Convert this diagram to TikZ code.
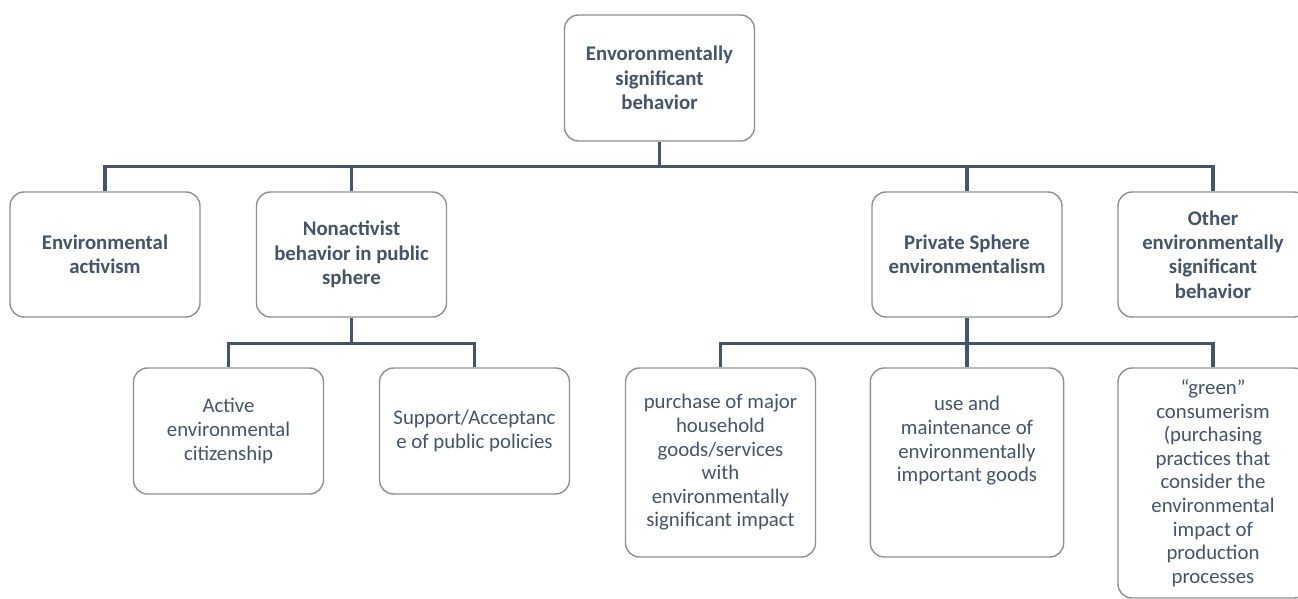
\documentclass[tikz,border=0pt]{standalone}
\usepackage{fontspec}
\setmainfont{Carlito}
\definecolor{slate}{HTML}{44546A}
\definecolor{rim}{HTML}{8F8F8F}

\begin{document}
\begin{tikzpicture}[
        x=0.5pt, y=-0.5pt,
        box/.style={draw=rim, line width=0.7pt, rounded corners=7pt, fill=white,
          text=slate, align=center, minimum width=95pt, minimum height=63pt,
          font=\fontsize{10.4}{11.8}\selectfont},
        head/.style={box, font=\fontsize{10.4}{12.2}\selectfont\bfseries},
        link/.style={draw=slate, line width=1.6pt}
      ]
      \useasboundingbox (0,0) rectangle (1298,599);
      \clip (0,0) rectangle (1298,599);

      \node[head] (root) at (659.5,78) {Envoronmentally\\significant\\behavior};

      \node[head, minimum height=62.5pt] (activism) at (105,254.5) {Environmental\\activism};
      \node[head, minimum height=62.5pt] (nonact) at (351.5,254.5) {Nonactivist\\behavior in public\\sphere};
      \node[head, minimum height=62.5pt] (private) at (967,254.5) {Private Sphere\\environmentalism};
      \node[head, minimum height=62.5pt] (other) at (1213,254.5) {Other\\environmentally\\significant\\behavior};

      \node[box] (citizen) at (228.5,431) {Active\\environmental\\citizenship};
      \node[box] (support) at (474.5,431) {Support/Acceptanc\\e of public policies};

      \node[box, minimum height=94.5pt] (purchase) at (720.5,462.5)
        {purchase of major\\household\\goods/services\\with\\environmentally\\significant impact};
      \node[box, minimum height=94.5pt] (use) at (967,462.5)
        {\parbox[c][66pt][t]{90pt}{\centering use and\\maintenance of\\environmentally\\important goods}};
      \node[box, minimum height=115pt] (green) at (1213,483)
        {``green''\\consumerism\\(purchasing\\practices that\\consider the\\environmental\\impact of\\production\\processes};

      \foreach \kid in {activism, nonact, private, other}
        \draw[link] (root.south) -- ++(0,25) -| (\kid.north);
      \foreach \kid in {citizen, support}
        \draw[link] (nonact.south) -- ++(0,25.5) -| (\kid.north);
      \foreach \kid in {purchase, use, green}
        \draw[link] (private.south) -- ++(0,25.5) -| (\kid.north);
\end{tikzpicture}
\end{document}
